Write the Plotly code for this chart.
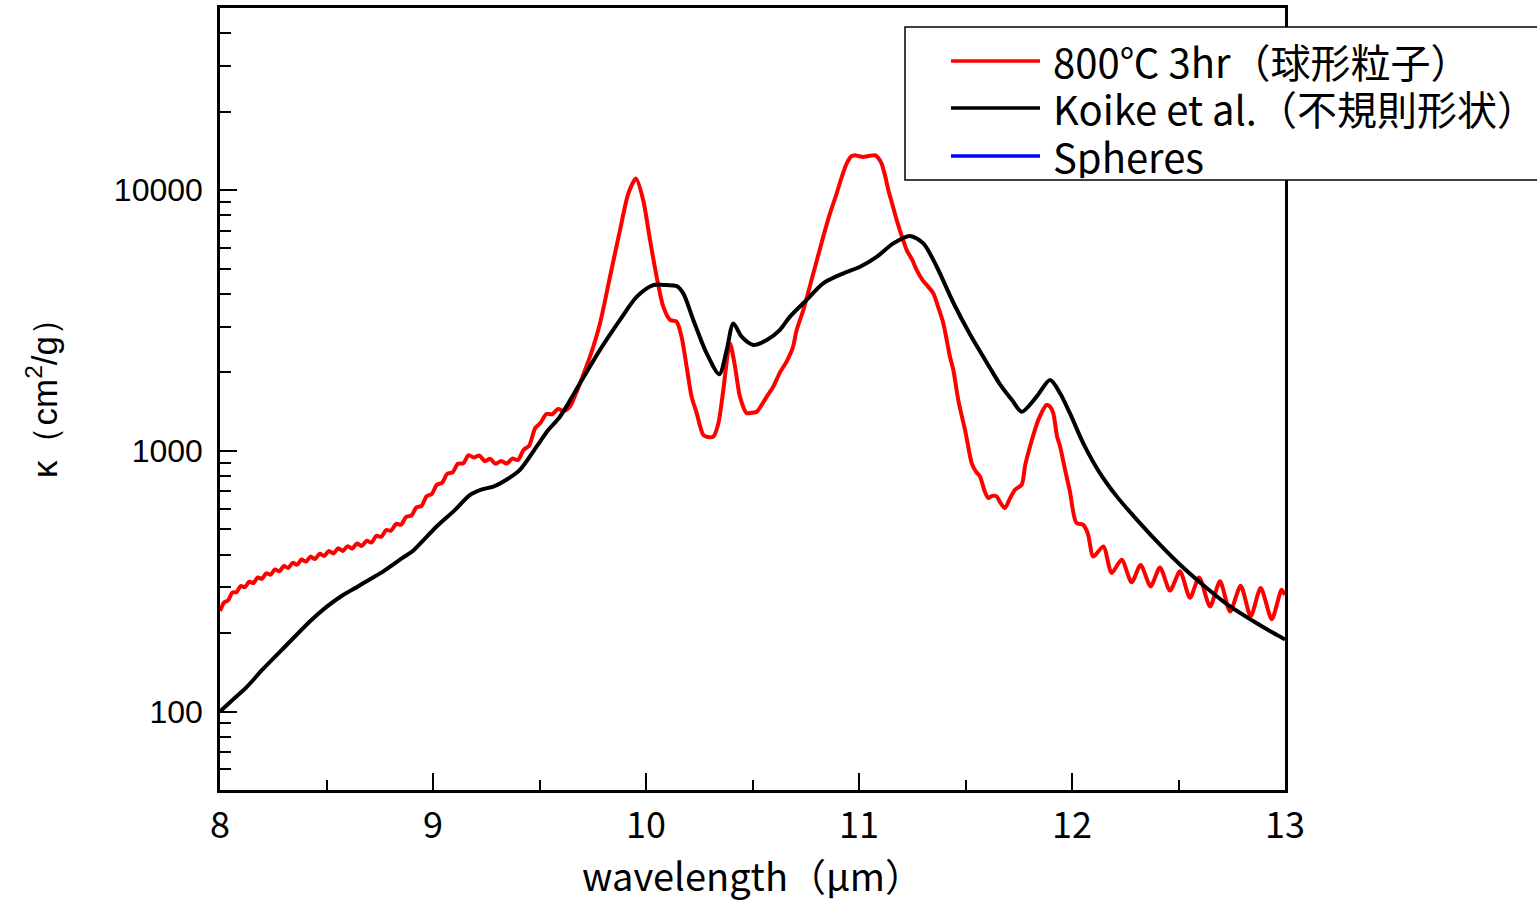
import plotly.graph_objects as go

# ---------------- data ----------------
wl_800 = [
    8.000, 8.019, 8.038, 8.058, 8.077, 8.097, 8.117, 8.137, 8.157, 8.177,
    8.197, 8.217, 8.238, 8.258, 8.279, 8.300, 8.320, 8.341, 8.362, 8.383,
    8.404, 8.425, 8.446, 8.468, 8.489, 8.511, 8.533, 8.555, 8.577, 8.599,
    8.621, 8.643, 8.666, 8.689, 8.711, 8.734, 8.757, 8.780, 8.803, 8.827,
    8.850, 8.874, 8.898, 8.922, 8.946, 8.970, 8.994, 9.018, 9.043, 9.067,
    9.092, 9.117, 9.142, 9.167, 9.192, 9.217, 9.243, 9.268, 9.294, 9.320,
    9.346, 9.372, 9.399, 9.425, 9.452, 9.479, 9.505, 9.532, 9.560, 9.587,
    9.614, 9.643, 9.670, 9.690, 9.737, 9.784, 9.831, 9.878, 9.917, 9.953,
    9.987, 10.019, 10.050, 10.081, 10.113, 10.144, 10.167, 10.191, 10.214, 10.238,
    10.269, 10.290, 10.316, 10.340, 10.363, 10.394, 10.418, 10.441, 10.473, 10.495,
    10.520, 10.567, 10.598, 10.629, 10.660, 10.690, 10.707, 10.740, 10.770, 10.800,
    10.832, 10.865, 10.895, 10.920, 10.942, 10.965, 10.981, 11.000, 11.020, 11.050,
    11.075, 11.090, 11.106, 11.122, 11.138, 11.157, 11.177, 11.200, 11.224, 11.250,
    11.271, 11.300, 11.318, 11.349, 11.370, 11.396, 11.427, 11.443, 11.466, 11.500,
    11.529, 11.550, 11.568, 11.590, 11.607, 11.625, 11.646, 11.665, 11.685, 11.710,
    11.732, 11.764, 11.780, 11.803, 11.842, 11.881, 11.897, 11.912, 11.930, 11.944,
    11.967, 11.990, 12.020, 12.053, 12.075, 12.100, 12.147, 12.186, 12.233, 12.280,
    12.322, 12.369, 12.413, 12.460, 12.507, 12.554, 12.597, 12.648, 12.695, 12.742,
    12.792, 12.839, 12.886, 12.938, 12.984, 13.000,
]
k_800 = [
    243, 262, 267, 286, 287, 303, 300, 315, 311, 327,
    323, 339, 335, 351, 345, 362, 355, 372, 366, 383,
    376, 393, 385, 403, 395, 413, 404, 423, 413, 431,
    422, 441, 432, 452, 445, 472, 468, 497, 494, 525,
    521, 558, 564, 607, 615, 670, 683, 741, 755, 817,
    827, 892, 896, 963, 943, 960, 913, 932, 892, 915,
    894, 934, 923, 1008, 1048, 1220, 1282, 1385, 1382, 1448,
    1422, 1479, 1650, 1815, 2297, 3083, 4655, 7030, 9710, 11080,
    9150, 6430, 4655, 3575, 3180, 3130, 2740, 2100, 1615, 1395,
    1150, 1130, 1134, 1277, 1714, 2588, 2105, 1615, 1395, 1400,
    1413, 1615, 1767, 2000, 2200, 2500, 2900, 3500, 4300, 5300,
    6625, 8200, 9710, 11300, 12650, 13500, 13620, 13500, 13420, 13550,
    13620, 13300, 12650, 11400, 10000, 8800, 7673, 6700, 5890, 5400,
    4935, 4500, 4325, 4020, 3600, 3083, 2297, 2043, 1567, 1180,
    898, 830, 798, 700, 659, 672, 669, 630, 603, 660,
    709, 742, 880, 1040, 1315, 1500, 1478, 1395, 1134, 1040,
    850, 700, 530, 520, 480, 393, 430, 340, 382, 313,
    365, 302, 357, 291, 345, 273, 327, 253, 316, 242,
    304, 232, 298, 226, 293, 280,
]

wl_koike = [
    8.000, 8.060, 8.125, 8.200, 8.313, 8.423, 8.500, 8.578, 8.642, 8.704,
    8.767, 8.860, 8.908, 9.017, 9.100, 9.174, 9.230, 9.283, 9.350, 9.408,
    9.487, 9.540, 9.596, 9.690, 9.784, 9.878, 9.956, 10.034, 10.097, 10.144,
    10.175, 10.222, 10.285, 10.344, 10.379, 10.410, 10.449, 10.504, 10.567, 10.629,
    10.676, 10.754, 10.832, 10.927, 11.005, 11.083, 11.161, 11.239, 11.302, 11.365,
    11.443, 11.521, 11.615, 11.662, 11.720, 11.764, 11.834, 11.897, 11.944, 11.990,
    12.053, 12.131, 12.210, 12.304, 12.413, 12.523, 12.632, 12.742, 12.852, 12.946,
    13.000,
]
k_koike = [
    100, 111, 124, 145, 180, 222, 252, 280, 300, 322,
    345, 390, 415, 513, 590, 678, 712, 729, 780, 846,
    1040, 1200, 1352, 1815, 2440, 3180, 3900, 4325, 4325, 4290,
    4020, 3180, 2365, 1968, 2440, 3083, 2742, 2548, 2662, 2913,
    3275, 3793, 4395, 4800, 5085, 5547, 6250, 6680, 6250, 5085,
    3700, 2800, 2080, 1800, 1560, 1413, 1615, 1871, 1664, 1395,
    1069, 822, 669, 545, 437, 356, 298, 253, 222, 200,
    189,
]

wl_spheres = []
k_spheres = []

series_names = ["800℃ 3hr（球形粒子）", "Koike et al.（不規則形状）", "Spheres"]
series_colors = ["#ff0000", "#000000", "#0000ff"]

x_major = [8, 9, 10, 11, 12, 13]
x_minor = [8.5, 9.5, 10.5, 11.5, 12.5]
y_major = [100, 1000, 10000]
y_major_text = ["100", "1000", "10000"]
y_minor = [60, 70, 80, 90, 200, 300, 400, 500, 600, 700, 800, 900,
           2000, 3000, 4000, 5000, 6000, 7000, 8000, 9000,
           20000, 30000, 40000]

x_title = "wavelength（μm）"
y_title = "κ（cm<sup>2</sup>/g）"

# ---------------- layout geometry ----------------
W, H = 1537, 902
ML, MR, MT, MB = 220, 252, 8, 112
PW, PH = W - ML - MR, H - MT - MB

def px(xp):
    return (xp - ML) / PW

def py(yp):
    return (H - MB - yp) / PH

CJK = "Noto Sans CJK JP, sans-serif"
ARIAL = "Liberation Sans, Arial, sans-serif"

fig = go.Figure()
fig.add_trace(go.Scatter(x=wl_800, y=k_800, mode="lines", name=series_names[0],
                         line=dict(color=series_colors[0], width=4, shape="spline", smoothing=0.7),
                         showlegend=False))
fig.add_trace(go.Scatter(x=wl_koike, y=k_koike, mode="lines", name=series_names[1],
                         line=dict(color=series_colors[1], width=4, shape="spline", smoothing=0.8),
                         showlegend=False))
fig.add_trace(go.Scatter(x=wl_spheres, y=k_spheres, mode="lines", name=series_names[2],
                         line=dict(color=series_colors[2], width=4), showlegend=False))

fig.update_layout(
    width=W, height=H,
    margin=dict(l=ML, r=MR, t=MT, b=MB, pad=0),
    paper_bgcolor="white", plot_bgcolor="white",
    showlegend=False,
    xaxis=dict(
        range=[8, 13], showgrid=False, zeroline=False, automargin=False,
        showline=True, linecolor="black", linewidth=2.5, mirror=True,
        tickmode="array", tickvals=x_major, ticktext=[str(v) for v in x_major],
        ticks="inside", ticklen=17, tickwidth=2, tickcolor="black",
        minor=dict(tickmode="array", tickvals=x_minor, ticks="inside", ticklen=10,
                   tickwidth=2, tickcolor="black", showgrid=False),
        tickfont=dict(family=CJK, size=36, color="black"),
        ticklabelstandoff=2,
        title=dict(text=x_title, font=dict(family=CJK, size=38, color="black"), standoff=29),
    ),
    yaxis=dict(
        type="log", range=[1.699, 4.699], showgrid=False, zeroline=False, automargin=False,
        showline=True, linecolor="black", linewidth=2.5, mirror=True,
        tickmode="array", tickvals=y_major, ticktext=y_major_text,
        ticks="inside", ticklen=17, tickwidth=2, tickcolor="black",
        minor=dict(tickmode="array", tickvals=y_minor, ticks="inside", ticklen=11,
                   tickwidth=2, tickcolor="black", showgrid=False),
        tickfont=dict(family=ARIAL, size=32, color="black"),
        ticklabelstandoff=8,
    ),
)

# y-axis title placed as a rotated annotation
fig.add_annotation(x=px(42), y=py(390), xref="paper", yref="paper",
                   text=y_title, showarrow=False, textangle=-90,
                   xanchor="center", yanchor="middle",
                   font=dict(family=ARIAL, size=35, color="black"))

# ---------------- legend (drawn by hand to match the long line samples) ----------------
fig.add_shape(type="rect", xref="paper", yref="paper",
              x0=px(905), x1=px(1560), y0=py(180), y1=py(27),
              line=dict(color="black", width=1.5), fillcolor="white", layer="above")
row_y = [61, 108, 156]
for name, color, ry in zip(series_names, series_colors, row_y):
    fig.add_shape(type="line", xref="paper", yref="paper",
                  x0=px(951), x1=px(1040), y0=py(ry), y1=py(ry),
                  line=dict(color=color, width=3.5), layer="above")
    fig.add_annotation(x=px(1051), y=py(ry), xref="paper", yref="paper",
                       text=name, showarrow=False, xanchor="left", yanchor="middle",
                       height=44, valign="middle",
                       font=dict(family=CJK, size=40, color="black"))

fig.write_html("out.html")
